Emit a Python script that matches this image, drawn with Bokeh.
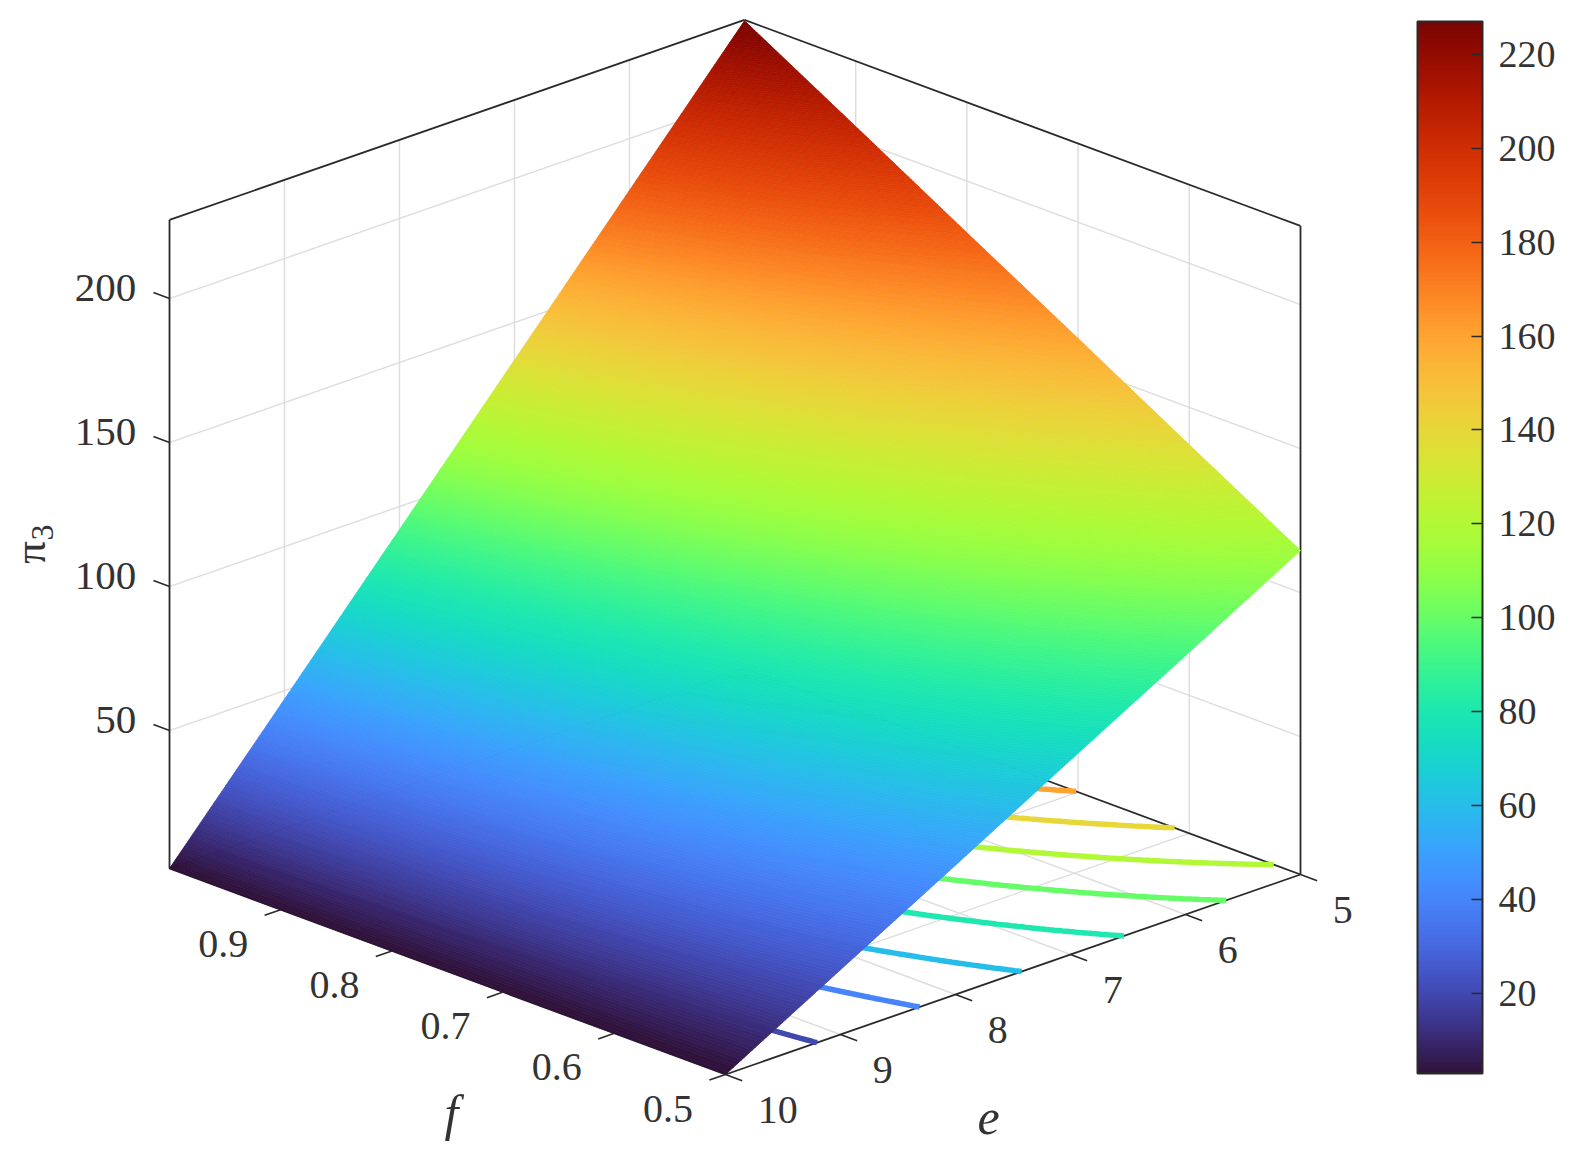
import numpy as np
import contourpy
from bokeh.plotting import figure
from bokeh.models import ColorBar, LinearColorMapper, FixedTicker, Range1d, ColumnDataSource
from bokeh.palettes import Turbo256
from bokeh.core.properties import value
from bokeh.embed import file_html
from bokeh.resources import INLINE

# ---- data ----
e_vals = [5, 6, 7, 8, 9, 10]
f_vals = [0.5, 0.6, 0.7, 0.8, 0.9, 1.0]
# rows: f_vals, columns: e_vals
pi3_f05 = [114.6, 92, 69.6, 47, 24.6, 2.1]
pi3_f06 = [137, 110, 83, 56, 29, 2.1]
pi3_f07 = [159.6, 128, 96.6, 65, 33.6, 2.1]
pi3_f08 = [182, 146, 110, 74, 38, 2.1]
pi3_f09 = [204.6, 164, 123.6, 83, 42.6, 2.1]
pi3_f10 = [227, 182, 137, 92, 47, 2.1]
contour_levels = [20, 40, 60, 80, 100, 120, 140, 160, 180, 200, 220]
z_ticks = [50, 100, 150, 200]
z_labels = ["50", "100", "150", "200"]
e_ticks = [5, 6, 7, 8, 9, 10]
e_labels = ["5", "6", "7", "8", "9", "10"]
f_ticks = [0.5, 0.6, 0.7, 0.8, 0.9]
f_labels = ["0.5", "0.6", "0.7", "0.8", "0.9"]
cbar_ticks = [20, 40, 60, 80, 100, 120, 140, 160, 180, 200, 220]
z_floor, z_top = 2.1, 227.3
cbar_low, cbar_high = 2.9, 227.0

# ---- view: axonometric projection of (e, f, z) onto the page ----
SERIF = "Liberation Serif"
INK = "#333333"
GRID = "#dddddd"
BOX = "#2a2a2a"


def proj(e, f, z):
    e, f, z = np.asarray(e, float), np.asarray(f, float), np.asarray(z, float)
    x = 725 + 115.0 * (10 - e) - 1112.0 * (f - 0.5)
    y = 1074 - 40.0 * (10 - e) - 412.0 * (f - 0.5) - 2.88 * (z - z_floor)
    return x, y


def seg(p0, p1):
    x0, y0 = proj(*p0)
    x1, y1 = proj(*p1)
    return [float(x0), float(x1)], [float(y0), float(y1)]


W, H = 1555, 1150
p = figure(width=W, height=H, output_backend="svg", toolbar_location=None,
           x_range=Range1d(0, W), y_range=Range1d(H, 0),
           min_border=0, outline_line_color=None, background_fill_color="white")
p.axis.visible = False
p.grid.visible = False

mapper = LinearColorMapper(palette=Turbo256, low=cbar_low, high=cbar_high)


def lines(segs, color, width):
    xs = [s[0] for s in segs]
    ys = [s[1] for s in segs]
    p.multi_line(xs, ys, line_color=color, line_width=width)


# grid on walls and floor
grid = []
for z in z_ticks:
    grid.append(seg((10, 1, z), (5, 1, z)))
    grid.append(seg((5, 1, z), (5, 0.5, z)))
for e in e_ticks[1:-1]:
    grid.append(seg((e, 1, z_floor), (e, 1, z_top)))
    grid.append(seg((e, 0.5, z_floor), (e, 1, z_floor)))
for f in f_ticks[1:]:
    grid.append(seg((5, f, z_floor), (5, f, z_top)))
    grid.append(seg((5, f, z_floor), (10, f, z_floor)))
lines(grid, GRID, 1.4)

# box
box = [
    seg((10, 1, z_floor), (10, 1, z_top)),
    seg((10, 1, z_top), (5, 1, z_top)),
    seg((5, 1, z_top), (5, 0.5, z_top)),
    seg((5, 0.5, z_top), (5, 0.5, z_floor)),
    seg((10, 1, z_floor), (10, 0.5, z_floor)),
    seg((10, 0.5, z_floor), (5, 0.5, z_floor)),
    seg((5, 0.5, z_floor), (5, 1, z_floor)),
    seg((5, 1, z_floor), (10, 1, z_floor)),
]
lines(box, BOX, 1.8)

# tick marks
ticks = []
for e in e_ticks:
    ticks.append(seg((e, 0.5, z_floor), (e, 0.485, z_floor)))
for f in f_ticks:
    ticks.append(seg((10, f, z_floor), (10.14, f, z_floor)))
for z in z_ticks:
    ticks.append(seg((10, 1, z), (10, 1.0144, z)))
lines(ticks, BOX, 1.6)

# fine evaluation of the table for shading (MATLAB's interpolated shading)
table = np.array([pi3_f05, pi3_f06, pi3_f07, pi3_f08, pi3_f09, pi3_f10], float)
N = 120
ef = np.linspace(5, 10, N + 1)
ff = np.linspace(0.5, 1.0, N + 1)
ei = np.interp(ef, e_vals, np.arange(6))
fi = np.interp(ff, f_vals, np.arange(6))
i0 = np.minimum(fi.astype(int), 4)
j0 = np.minimum(ei.astype(int), 4)
tf = (fi - i0)[:, None]
te = (ei - j0)[None, :]
Z = (table[np.ix_(i0, j0)] * (1 - tf) * (1 - te) + table[np.ix_(i0 + 1, j0)] * tf * (1 - te)
     + table[np.ix_(i0, j0 + 1)] * (1 - tf) * te + table[np.ix_(i0 + 1, j0 + 1)] * tf * te)
EE, FF = np.meshgrid(ef, ff)

# contours projected on the floor
gen = contourpy.contour_generator(x=EE, y=FF, z=Z)
for lev in contour_levels:
    for ln in gen.lines(lev):
        cx, cy = proj(ln[:, 0], ln[:, 1], z_floor)
        p.line(cx.tolist(), cy.tolist(), line_width=5.5,
               line_color=Turbo256[int(round((lev - cbar_low) / (cbar_high - cbar_low) * 255))])

# surface: one filled band per colour step, so the gradient has no mesh texture
fgen = contourpy.contour_generator(x=EE, y=FF, z=Z, fill_type="OuterOffset")
band_edges = np.linspace(Z.min() - 0.05, Z.max() + 0.05, 421)
xs, ys, zs = [], [], []
for lo, hi in zip(band_edges[:-1], band_edges[1:]):
    pts_list, off_list = fgen.filled(lo, hi)
    for pts, off in zip(pts_list, off_list):
        for a, b in zip(off[:-1], off[1:]):
            ring = pts[a:b]
            # each band point sits at its own height on the surface
            ie = np.interp(ring[:, 0], e_vals, np.arange(6))
            jf = np.interp(ring[:, 1], f_vals, np.arange(6))
            i_ = np.minimum(jf.astype(int), 4)
            j_ = np.minimum(ie.astype(int), 4)
            u = jf - i_
            v = ie - j_
            zr = (table[i_, j_] * (1 - u) * (1 - v) + table[i_ + 1, j_] * u * (1 - v)
                  + table[i_, j_ + 1] * (1 - u) * v + table[i_ + 1, j_ + 1] * u * v)
            sx, sy = proj(ring[:, 0], ring[:, 1], zr)
            xs.append(np.round(sx, 2).tolist())
            ys.append(np.round(sy, 2).tolist())
            zs.append((lo + hi) / 2)
src = ColumnDataSource(dict(xs=xs, ys=ys, z=zs))
cfield = {"field": "z", "transform": mapper}
p.patches("xs", "ys", source=src, fill_color=cfield, line_color=cfield, line_width=0.8)


def txt(x, y, s, size, style="normal", align="center", angle=0.0, baseline="middle"):
    p.text([float(x)], [float(y)], text=[s], text_font=value(SERIF), text_font_size=f"{size}px",
           text_font_style=style, text_color=INK, text_align=align,
           text_baseline=baseline, angle=angle)


# tick labels
for z, s in zip(z_ticks, z_labels):
    x, y = proj(10, 1.03, z)
    txt(x, y + 2, s, 41, align="right")
for e, s in zip(e_ticks, e_labels):
    x, y = proj(e, 0.462, z_floor - 7)
    txt(x + (10 if s == "10" else 0), y, s, 40)
for f, s in zip(f_ticks, f_labels):
    x, y = proj(10.5, f, z_floor - 4.9)
    txt(x, y, s, 40)

# axis titles
txt(451, 1112, "f", 50, style="italic")
txt(988, 1117, "e", 50, style="italic")
txt(29, 552, "π", 45, angle=np.pi / 2)
txt(42, 532, "3", 32, angle=np.pi / 2)

# colour bar
cb = ColorBar(color_mapper=mapper, location=(1417, 77), width=65, height=1052, padding=0, margin=0,
              ticker=FixedTicker(ticks=cbar_ticks), bar_line_color="#2a2a2a", bar_line_width=2,
              major_tick_in=11, major_tick_out=0, major_tick_line_color="#2a2a2a", major_tick_line_width=1.6,
              minor_tick_line_color=None, label_standoff=16,
              major_label_text_font=SERIF, major_label_text_font_size="38px", major_label_text_color=INK,
              background_fill_color=None, border_line_color=None)
p.add_layout(cb, "center")

open("out.html", "w").write(file_html(p, INLINE))
